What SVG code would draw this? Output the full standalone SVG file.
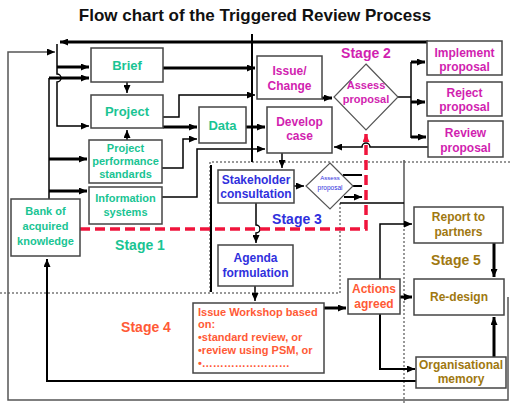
<svg xmlns="http://www.w3.org/2000/svg" width="510" height="403" viewBox="0 0 510 403">
<defs>
<marker id="a" markerUnits="userSpaceOnUse" markerWidth="8" markerHeight="7" refX="8" refY="3.5" orient="auto"><path d="M0,0 L8,3.5 L0,7 z" fill="#000"/></marker>
<marker id="r" markerUnits="userSpaceOnUse" markerWidth="8" markerHeight="7" refX="8" refY="3.5" orient="auto"><path d="M0,0 L8,3.5 L0,7 z" fill="#f0143c"/></marker>
<style>
text{font-family:"Liberation Sans",Arial,sans-serif;font-weight:bold;text-anchor:middle}
.box{fill:#fff;stroke:#444;stroke-width:1.5}
.dia{fill:#fff;stroke:#555;stroke-width:1.2}
.c{fill:none;stroke:#000;stroke-width:1.5}
.t{fill:none;stroke:#000;stroke-width:3}
.g{fill:none;stroke:#555;stroke-width:1.5}
.d{fill:none;stroke:#777;stroke-width:1.5;stroke-dasharray:2 2}
.red{fill:none;stroke:#f0143c;stroke-width:3.5;stroke-dasharray:10 5}
.gr{fill:#19c493;font-size:12px}
.mg{fill:#d11fb0;font-size:12px}
.bl{fill:#3030dd;font-size:12px}
.or{fill:#ff5a36;font-size:12px}
.au{fill:#a07810;font-size:12px}
.st{font-size:14px}
</style>
</defs>
<text x="255" y="21" style="font-size:17px;fill:#111">Flow chart of the Triggered Review Process</text>
<g id="regions">
<path class="d" d="M212 162 H510"/>
<path class="d" d="M210 162 V293"/>
<path class="d" d="M0 293 H340"/>
<path class="d" d="M340 203 V293"/>
<path class="g" d="M404 160 V225"/>
<path class="d" d="M404 225 V403"/>
<path d="M211 165 V292" stroke="#000" stroke-width="2"/>
</g>
<g id="connectors">
<path class="g" d="M508 297 V400 H8 V52 H55" marker-end="url(#a)"/>
<path class="t" d="M428 42 H60" marker-end="url(#a)"/>
<path class="c" d="M57 44 V74 A4 4 0 0 1 57 82 V126 H89" marker-end="url(#a)"/>
<path class="t" d="M57 67 H89" marker-end="url(#a)"/>
<path class="c" d="M49 199 V78"/>
<path class="t" d="M49 78 H89" marker-end="url(#a)"/>
<path class="t" d="M49 159 H87" marker-end="url(#a)"/>
<path class="t" d="M49 191 H87" marker-end="url(#a)"/>
<path class="c" d="M127 82 V93" marker-end="url(#a)"/>
<path class="c" d="M127 140 V130" marker-end="url(#a)"/>
<path class="t" d="M163 68 H255" marker-end="url(#a)"/>
<path class="c" d="M163 117 H179 V95 H255" marker-end="url(#a)"/>
<path class="t" d="M163 127 H197" marker-end="url(#a)"/>
<path class="c" d="M162 168 H183 V139 H197" marker-end="url(#a)"/>
<path class="c" d="M162 197 H197 V149 H265" marker-end="url(#a)"/>
<path d="M252 34 V162" stroke="#000" stroke-width="2"/>
<path class="t" d="M246 127 H265" marker-end="url(#a)"/>
<path class="t" d="M322 98 H332" marker-end="url(#a)"/>
<path class="c" d="M398 97 H411 M411 62 V138"/>
<path class="t" d="M411 62 H425" marker-end="url(#a)"/>
<path class="t" d="M411 102 H425" marker-end="url(#a)"/>
<path class="t" d="M411 137 H426" marker-end="url(#a)"/>
<path class="c" d="M428 147 H370 A4 4 0 0 0 362 147 H334" marker-end="url(#a)"/>
<path class="c" d="M282 153 V168" marker-end="url(#a)"/>
<path class="c" d="M294 186 H304" marker-end="url(#a)"/>
<path d="M343 175 H362 M353 186 H362 M344 197 H362" stroke="#000" stroke-width="2" marker-end="url(#a)"/>
<path class="c" d="M256 203 V225 A4 4 0 0 1 256 233 V243" marker-end="url(#a)"/>
<path class="c" d="M255 286 V301" marker-end="url(#a)"/>
<path class="t" d="M324 308 H346" marker-end="url(#a)"/>
<path class="c" d="M380 279 V224 H412" marker-end="url(#a)"/>
<path class="t" d="M400 297 H412" marker-end="url(#a)"/>
<path d="M380 314 V369 H415" fill="none" stroke="#000" stroke-width="2" marker-end="url(#a)"/>
<path class="t" d="M494 243 V277" marker-end="url(#a)"/>
<path class="t" d="M494 357 V317" marker-end="url(#a)"/>
<path d="M416 381 H47 V259" fill="none" stroke="#000" stroke-width="2" marker-end="url(#a)"/>
<path class="c" d="M340 203 H404"/>
<path class="red" d="M80 229 H366 V134" marker-end="url(#r)"/>
</g>
<g id="brief"><rect class="box" x="91" y="48" width="72" height="34"/><text class="gr" x="127" y="70" style="font-size:13px">Brief</text></g>
<g id="project"><rect class="box" x="91" y="95" width="72" height="33"/><text class="gr" x="127" y="116" style="font-size:13px">Project</text></g>
<g id="pps"><rect class="box" x="89" y="140" width="73" height="43"/><text class="gr" x="125.5" y="152" style="font-size:11px">Project</text><text class="gr" x="125.5" y="165" style="font-size:11px">performance</text><text class="gr" x="125.5" y="178" style="font-size:11px">standards</text></g>
<g id="info"><rect class="box" x="89" y="187" width="73" height="37"/><text class="gr" x="125.5" y="202" style="font-size:11px">Information</text><text class="gr" x="125.5" y="216" style="font-size:11px">systems</text></g>
<g id="bank"><rect class="box" x="11" y="199" width="69" height="57"/><text class="gr" x="45.5" y="215" style="font-size:11px">Bank of</text><text class="gr" x="45.5" y="230" style="font-size:11px">acquired</text><text class="gr" x="45.5" y="245" style="font-size:11px">knowledge</text></g>
<g id="data"><rect class="box" x="199" y="107" width="47" height="36"/><text class="gr" x="222.5" y="130" style="font-size:13px">Data</text></g>
<g id="issue"><rect class="box" x="257" y="56" width="65" height="43"/><text class="mg" x="289.5" y="75">Issue/</text><text class="mg" x="289.5" y="90">Change</text></g>
<g id="develop"><rect class="box" x="267" y="107" width="65" height="46"/><text class="mg" x="299.5" y="126">Develop</text><text class="mg" x="299.5" y="140">case</text></g>
<g id="assess2"><polygon class="dia" points="366,64 398,97 366,130 334,97"/><text class="mg" x="366" y="89" style="font-size:11px">Assess</text><text class="mg" x="366" y="103" style="font-size:11px">proposal</text></g>
<text class="mg st" x="366" y="58">Stage 2</text>
<g id="implement"><rect class="box" x="427" y="41" width="75" height="34"/><text class="mg" x="464.5" y="57">Implement</text><text class="mg" x="464.5" y="71">proposal</text></g>
<g id="reject"><rect class="box" x="427" y="82" width="75" height="34"/><text class="mg" x="464.5" y="97">Reject</text><text class="mg" x="464.5" y="111">proposal</text></g>
<g id="review"><rect class="box" x="428" y="121" width="75" height="36"/><text class="mg" x="465.5" y="137">Review</text><text class="mg" x="465.5" y="152">proposal</text></g>
<g id="stakeholder"><rect class="box" x="218" y="170" width="76" height="33"/><text class="bl" x="256" y="184">Stakeholder</text><text class="bl" x="256" y="198">consultation</text></g>
<g id="assess3"><polygon class="dia" points="330,163 353,186 330,209 306,186"/><text class="bl" x="330" y="180" style="font-size:6px;font-weight:normal">Assess</text><text class="bl" x="330" y="190" style="font-size:6.5px;font-weight:normal">proposal</text></g>
<text class="bl st" x="297" y="224">Stage 3</text>
<g id="agenda"><rect class="box" x="218" y="245" width="75" height="41"/><text class="bl" x="255.5" y="262">Agenda</text><text class="bl" x="255.5" y="277">formulation</text></g>
<text class="gr st" x="140" y="250">Stage 1</text>
<text class="or st" x="146" y="332">Stage 4</text>
<g id="workshop"><rect class="box" x="193" y="303" width="131" height="70"/><g class="or" style="font-size:11px;text-anchor:start"><text x="198" y="316" style="text-anchor:start">Issue Workshop based</text><text x="198" y="328" style="text-anchor:start">on:</text><text x="198" y="341" style="text-anchor:start">•standard review, or</text><text x="198" y="354" style="text-anchor:start">•review using PSM, or</text><text x="198" y="367" style="text-anchor:start">•……………………</text></g></g>
<g id="actions"><rect class="box" x="348" y="279" width="52" height="35"/><text class="or" x="374" y="293">Actions</text><text class="or" x="374" y="308">agreed</text></g>
<g id="report"><rect class="box" x="414" y="207" width="89" height="36"/><text class="au" x="458.5" y="221">Report to</text><text class="au" x="458.5" y="236">partners</text></g>
<text class="au st" x="456" y="265">Stage 5</text>
<g id="redesign"><rect class="box" x="414" y="279" width="90" height="36"/><text class="au" x="459" y="301">Re-design</text></g>
<g id="orgmem"><rect class="box" x="416" y="357" width="90" height="31"/><text class="au" x="461" y="369">Organisational</text><text class="au" x="461" y="383">memory</text></g>
</svg>
